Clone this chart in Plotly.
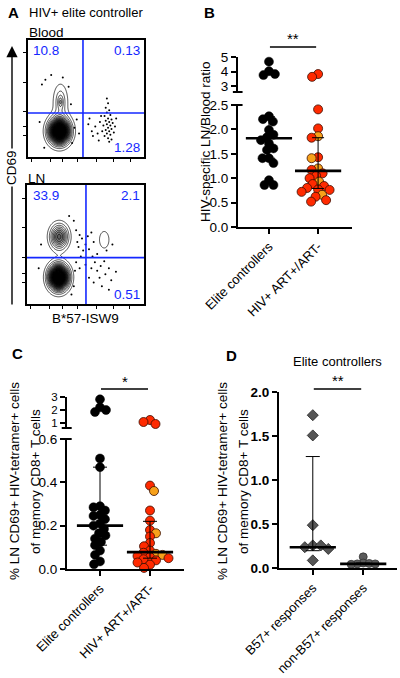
import numpy as np
import plotly.graph_objects as go

W, H = 400, 678
FONT = "Liberation Sans, Arial, Helvetica, sans-serif"

# ======================= DATA =======================
# Panel A: flow populations (fractions of the plot box): cx, cy, sx, sy, weight, profile power
blood_pop_cx = [0.27, 0.28]
blood_pop_cy = [0.22, 0.47]
blood_pop_sx = [0.080, 0.035]
blood_pop_sy = [0.097, 0.085]
blood_pop_w = [1.0, 0.30]
blood_pop_p = [2, 1]
blood_gate = [0.474, 0.376]
blood_quad = ["10.8", "0.13", "1.28"]
blood_events = [(0.68, 0.50), (0.69, 0.46), (0.67, 0.42), (0.70, 0.40), (0.68, 0.38), (0.71, 0.36),
                (0.66, 0.35), (0.69, 0.33), (0.72, 0.32), (0.67, 0.31), (0.70, 0.30), (0.73, 0.29),
                (0.68, 0.28), (0.71, 0.27), (0.65, 0.27), (0.69, 0.25), (0.72, 0.24), (0.67, 0.23),
                (0.70, 0.22), (0.74, 0.21), (0.68, 0.20), (0.71, 0.19), (0.66, 0.18), (0.69, 0.16),
                (0.72, 0.15), (0.70, 0.13), (0.64, 0.22), (0.62, 0.30), (0.58, 0.26), (0.55, 0.22),
                (0.52, 0.28), (0.56, 0.18), (0.60, 0.20), (0.53, 0.33), (0.61, 0.14), (0.63, 0.35),
                (0.75, 0.26), (0.76, 0.33), (0.12, 0.62), (0.15, 0.66), (0.30, 0.68), (0.35, 0.60),
                (0.10, 0.30), (0.40, 0.25), (0.42, 0.32), (0.38, 0.12), (0.14, 0.08), (0.44, 0.20),
                (0.20, 0.70), (0.37, 0.45)]

ln_pop_cx = [0.27, 0.275, 0.66]
ln_pop_cy = [0.225, 0.565, 0.54]
ln_pop_sx = [0.075, 0.07, 0.058]
ln_pop_sy = [0.095, 0.095, 0.10]
ln_pop_w = [1.0, 0.42, 0.10]
ln_pop_p = [2, 2, 1]
ln_gate = [0.504, 0.39]
ln_quad = ["33.9", "2.1", "0.51"]
ln_events = [(0.42, 0.62), (0.45, 0.58), (0.43, 0.52), (0.47, 0.55), (0.44, 0.48), (0.48, 0.45),
             (0.50, 0.50), (0.52, 0.57), (0.55, 0.60), (0.53, 0.46), (0.57, 0.52), (0.46, 0.40),
             (0.42, 0.35), (0.41, 0.28), (0.45, 0.30), (0.50, 0.33), (0.55, 0.30), (0.58, 0.35),
             (0.60, 0.28), (0.63, 0.32), (0.66, 0.36), (0.70, 0.30), (0.62, 0.22), (0.67, 0.25),
             (0.57, 0.18), (0.72, 0.20), (0.64, 0.15), (0.53, 0.22), (0.76, 0.27), (0.60, 0.42),
             (0.68, 0.45), (0.73, 0.50), (0.56, 0.40), (0.40, 0.70), (0.36, 0.74), (0.12, 0.50),
             (0.10, 0.30), (0.40, 0.15), (0.38, 0.08), (0.70, 0.12)]

# Panel B: HIV-specific LN/Blood ratio
categories_bc = ["Elite controllers", "HIV+ ART+/ART-"]
b_elite = [4.68, 4.03, 3.83, 3.76, 2.27, 2.21, 2.16, 1.99, 1.89, 1.84, 1.78, 1.71, 1.61,
           1.58, 1.41, 1.41, 1.31, 0.96, 0.86, 0.86]
b_art = [3.83, 3.64, 2.41, 2.02, 1.86, 1.83, 1.43, 1.41, 1.20, 1.17, 1.10, 1.05, 1.00, 0.93,
         0.88, 0.84, 0.80, 0.77, 0.76, 0.72, 0.66, 0.62, 0.55, 0.52]
b_art_group = ["ART+", "ART+", "ART+", "ART+", "ART-", "ART+", "ART+", "ART-", "ART-", "ART+",
               "ART+", "ART+", "ART+", "ART-", "ART+", "ART+", "ART+", "ART+", "ART+", "ART+",
               "ART-", "ART+", "ART+", "ART+"]
b_median = [1.82, 1.15]
b_q1 = [1.41, 0.79]
b_q3 = [2.26, 1.83]
b_sig = "**"

# Panel C: % LN CD69+ HIV-tetramer+ cells
c_elite = [2.80, 2.20, 2.00, 1.85, 0.51, 0.47, 0.29, 0.285, 0.27, 0.25, 0.245, 0.23, 0.21,
           0.20, 0.185, 0.165, 0.155, 0.14, 0.125, 0.11, 0.085, 0.065, 0.035, 0.022]
c_art = [1.25, 1.10, 0.95, 0.385, 0.36, 0.27, 0.223, 0.18, 0.165, 0.15, 0.12, 0.105, 0.085,
         0.075, 0.07, 0.065, 0.06, 0.055, 0.05, 0.045, 0.04, 0.03, 0.02, 0.005]
c_art_group = ["ART+", "ART+", "ART+", "ART+", "ART-", "ART+", "ART+", "ART+", "ART-", "ART+",
               "ART+", "ART+", "ART+", "ART+", "ART-", "ART-", "ART+", "ART+", "ART+", "ART+",
               "ART+", "ART+", "ART+", "ART+"]
c_median = [0.20, 0.078]
c_q1 = [0.11, 0.05]
c_q3 = [0.47, 0.22]
c_sig = "*"

# Panel D: elite controllers, B57+ vs non-B57+
categories_d = ["B57+ responses", "non-B57+ responses"]
d_b57 = [1.74, 1.51, 0.49, 0.26, 0.26, 0.24, 0.22, 0.09]
d_non = [0.13, 0.06, 0.055, 0.05, 0.05, 0.045]
d_median = [0.24, 0.05]
d_q1 = [0.20, 0.045]
d_q3 = [1.27, 0.06]
d_sig = "**"

# ======================= LAYOUT HELPERS =======================
def xd(a, b):
    return [a / W, b / W]

def yd(top, bottom):
    return [1 - bottom / H, 1 - top / H]

def py(p):
    return 1 - p / H

COL = {"ART+": "#ff2a00", "ART-": "#f7a11a"}

# segments: (lo, hi, px_bottom, px_top)
B_SEGS = [(0.0, 2.5, 227, 105), (2.6, 5.0, 92, 57)]
C_SEGS = [(0.0, 0.6, 569, 439), (0.65, 3.0, 428, 396.7)]
D_SEGS = [(0.0, 2.0, 568.3, 392.3)]
B_X = (238, 352, -0.63, 1.69)
C_X = (67, 184, -0.66, 1.68)
D_X = (279, 397, -0.67, 1.67)


def ypx(v, segs):
    for s in segs:
        lo, hi, pb, pt = s
        if v <= hi or s is segs[-1]:
            return pb - (v - lo) / (hi - lo) * (pb - pt)


def swarm(vals, segs, xspec, diam, gap=0.72):
    ppu = (xspec[1] - xspec[0]) / (xspec[3] - xspec[2])
    ys = [ypx(v, segs) for v in vals]
    order = sorted(range(len(vals)), key=lambda i: ys[i])
    placed, offs = [], [0.0] * len(vals)
    md = (gap * diam) ** 2
    for n, i in enumerate(order):
        y = ys[i]
        chosen = 0.0
        for k in range(0, 400):
            if k == 0:
                cands = [0.0]
            else:
                cands = [k * 0.5, -k * 0.5] if n % 2 == 0 else [-k * 0.5, k * 0.5]
            ok = None
            for c in cands:
                if all((c - a) ** 2 + (y - b) ** 2 >= md for a, b in placed):
                    ok = c
                    break
            if ok is not None:
                chosen = ok
                break
        placed.append((chosen, y))
        offs[i] = chosen / ppu
    return offs


def pa(**kw):
    """paper-referenced annotation"""
    d = dict(xref="paper", yref="paper", showarrow=False, xanchor="center", yanchor="middle")
    d.update(kw)
    return d


fig = go.Figure()

# ======================= PANEL A =======================
grid = np.linspace(0, 1, 161)
GX, GY = np.meshgrid(grid, grid)


def density(cxs, cys, sxs, sys_, ws, ps):
    Z = np.zeros_like(GX)
    for cx, cy, sx, sy, w, p in zip(cxs, cys, sxs, sys_, ws, ps):
        r = np.sqrt(((GX - cx) / sx) ** 2 + ((GY - cy) / sy) ** 2)
        Z += w * np.exp(-(r ** p))
    return Z


flow_cs = [[0, "white"], [0.09, "white"], [0.2, "#e2e2e2"], [0.35, "#7a7a7a"],
           [0.5, "#3a3a3a"], [0.65, "#111111"], [1, "black"]]
flow_specs = [
    ("x", "y", density(blood_pop_cx, blood_pop_cy, blood_pop_sx, blood_pop_sy, blood_pop_w,
                       blood_pop_p),
     blood_events, blood_gate, blood_quad, xd(28, 144), yd(40, 157)),
    ("x2", "y2", density(ln_pop_cx, ln_pop_cy, ln_pop_sx, ln_pop_sy, ln_pop_w, ln_pop_p),
     ln_events, ln_gate, ln_quad, xd(27, 144), yd(185, 304)),
]
shapes, annots = [], []
flow_xt = [0.03, 0.19, 0.30, 0.43, 0.59, 0.74, 0.88]
flow_yt = [0.18, 0.26, 0.39, 0.64, 0.89]
for xa, ya, Z, ev, gate, quad, xdom, ydom in flow_specs:
    fig.add_trace(go.Contour(x=grid, y=grid, z=Z, xaxis=xa, yaxis=ya, showscale=False,
                             zmin=0, zmax=1, colorscale=flow_cs,
                             contours=dict(start=0.05, end=1.0, size=0.05, coloring="fill"),
                             line=dict(color="black", width=0.7, smoothing=1.0),
                             hoverinfo="skip"))
    fig.add_trace(go.Scatter(x=[e[0] for e in ev], y=[e[1] for e in ev], mode="markers",
                             xaxis=xa, yaxis=ya, marker=dict(size=2, color="black"),
                             hoverinfo="skip", showlegend=False))
    ak = "axis" + xa[1:]
    yk = "axis" + ya[1:]
    common = dict(range=[0, 1], showline=True, mirror=True, linecolor="black", linewidth=1.5,
                  ticks="outside", ticklen=3, tickwidth=1, tickcolor="black", automargin=False,
                  showticklabels=False, showgrid=False, zeroline=False, fixedrange=True)
    fig.update_layout(**{"x" + ak: dict(domain=xdom, anchor=ya, tickvals=flow_xt, **common),
                         "y" + yk: dict(domain=ydom, anchor=xa, tickvals=flow_yt, **common)})
    shapes.append(dict(type="line", xref=xa, yref=ya + " domain", x0=gate[0], x1=gate[0],
                       y0=0, y1=1, line=dict(color="#1428ff", width=1.6), layer="above"))
    shapes.append(dict(type="line", xref=xa + " domain", yref=ya, x0=0, x1=1,
                       y0=gate[1], y1=gate[1], line=dict(color="#1428ff", width=1.6), layer="above"))
    qf = dict(family=FONT, size=13.5, color="#1428ff")
    annots.append(dict(text=quad[0], xref=xa + " domain", yref=ya + " domain", x=0.03, y=0.99,
                       xanchor="left", yanchor="top", showarrow=False, font=qf))
    annots.append(dict(text=quad[1], xref=xa + " domain", yref=ya + " domain", x=0.985, y=0.99,
                       xanchor="right", yanchor="top", showarrow=False, font=qf))
    annots.append(dict(text=quad[2], xref=xa + " domain", yref=ya + " domain", x=0.985, y=0.0,
                       xanchor="right", yanchor="bottom", showarrow=False, font=qf))

tf = dict(family=FONT, size=13.5, color="black")
annots += [
    pa(text="<b>A</b>", x=6 / W, y=py(12), xanchor="left",
       font=dict(family=FONT, size=15, color="black")),
    pa(text="HIV+ elite controller", x=27 / W, y=py(12), xanchor="left",
       font=dict(family=FONT, size=13, color="black")),
    pa(text="Blood", x=27 / W, y=py(32), xanchor="left", font=tf),
    pa(text="LN", x=26 / W, y=py(178), xanchor="left", font=tf),
    dict(text="", x=12 / W, y=py(46), ax=0, ay=260, axref="pixel", ayref="pixel",
         xref="paper", yref="paper", showarrow=True, arrowhead=2, arrowsize=1.6,
         arrowwidth=1.4, arrowcolor="black"),
    pa(text="CD69", x=12 / W, y=py(168), textangle=-90, font=tf, bgcolor="white"),
    pa(text="B*57-ISW9", x=85 / W, y=py(318), font=tf),
]

# ======================= PANELS B, C, D =======================
def add_group(vals, cat, xspec, segs, axes, colors, symbol, size, lcolor, lw):
    offs = swarm(vals, segs, xspec, size if symbol == "circle" else size * 1.3)
    lower_hi = segs[0][1]
    for seg_i, (xa, ya) in enumerate(axes):
        idx = [i for i, v in enumerate(vals) if (v <= lower_hi) == (seg_i == 0)]
        if not idx:
            continue
        fig.add_trace(go.Scatter(
            x=[cat + offs[i] for i in idx], y=[vals[i] for i in idx], mode="markers",
            xaxis=xa, yaxis=ya, cliponaxis=False, hoverinfo="skip", showlegend=False,
            marker=dict(symbol=symbol, size=size, color=[colors[i] for i in idx],
                        line=dict(color=lcolor, width=lw))))


def add_summary(med, q1, q3, xa, ya, cap):
    fig.add_trace(go.Scatter(
        x=list(range(len(med))), y=med, mode="markers", xaxis=xa, yaxis=ya,
        cliponaxis=False, hoverinfo="skip", showlegend=False,
        marker=dict(symbol="line-ew", size=33, color="black",
                    line=dict(color="black", width=2.6)),
        error_y=dict(type="data", symmetric=False,
                     array=[b - a for a, b in zip(med, q3)],
                     arrayminus=[a - b for a, b in zip(med, q1)],
                     thickness=1, width=cap, color="black")))


# B
add_group(b_elite, 0, B_X, B_SEGS, [("x3", "y3"), ("x3", "y4")], ["black"] * len(b_elite),
          "circle", 9, "black", 0.5)
add_group(b_art, 1, B_X, B_SEGS, [("x3", "y3"), ("x3", "y4")],
          [COL[g] for g in b_art_group], "circle", 9, "#3a0c00", 0.8)
add_summary(b_median, b_q1, b_q3, "x3", "y3", 6)
# C
add_group(c_elite, 0, C_X, C_SEGS, [("x4", "y5"), ("x4", "y6")], ["black"] * len(c_elite),
          "circle", 9, "black", 0.5)
add_group(c_art, 1, C_X, C_SEGS, [("x4", "y5"), ("x4", "y6")],
          [COL[g] for g in c_art_group], "circle", 9, "#3a0c00", 0.8)
add_summary(c_median, c_q1, c_q3, "x4", "y5", 7)
# D
add_group(d_b57, 0, D_X, D_SEGS, [("x5", "y7")], ["#555555"] * len(d_b57), "diamond", 8.5,
          "#222222", 0.8)
add_group(d_non, 1, D_X, D_SEGS, [("x5", "y7")], ["#5a5a5a"] * len(d_non), "circle", 8,
          "#333333", 0.8)
add_summary(d_median, d_q1, d_q3, "x5", "y7", 7)

axline = dict(showline=True, linecolor="black", linewidth=2, ticks="outside", ticklen=5,
              tickwidth=1.6, tickcolor="black", showgrid=False, zeroline=False, fixedrange=True,
              automargin=False, tickfont=dict(family=FONT, size=13.5, color="black"))
axbold = dict(axline, tickfont=dict(family=FONT, size=13.5, color="black", weight="bold"))
axsmall = dict(axline, tickfont=dict(family=FONT, size=11.5, color="black"))


def cat_x(xspec, ya, labels):
    base = dict(axline, tickfont=dict(family=FONT, size=13, color="black"))
    return dict(domain=xd(xspec[0], xspec[1]), range=[xspec[2], xspec[3]], anchor=ya,
                tickvals=[0, 1], ticktext=labels, tickangle=-45, **base)


def seg_y(seg, xa, ticks, fmt, base=axline):
    lo, hi, pb, pt = seg
    return dict(domain=yd(pt, pb), range=[lo, hi], anchor=xa, tickvals=ticks,
                ticktext=[fmt.format(t) for t in ticks], **base)


fig.update_layout(
    xaxis3=cat_x(B_X, "y3", categories_bc),
    yaxis3=seg_y(B_SEGS[0], "x3", [0, 0.5, 1.0, 1.5, 2.0, 2.5], "{:.1f}"),
    yaxis4=seg_y(B_SEGS[1], "x3", [3, 4, 5], "{:.0f}"),
    xaxis4=cat_x(C_X, "y5", categories_bc),
    yaxis5=seg_y(C_SEGS[0], "x4", [0, 0.2, 0.4, 0.6], "{:.1f}"),
    yaxis6=seg_y(C_SEGS[1], "x4", [1, 2, 3], "{:.0f}", axsmall),
    xaxis5=cat_x(D_X, "y7", categories_d),
    yaxis7=seg_y(D_SEGS[0], "x5", [0, 0.5, 1.0, 1.5, 2.0], "{:.1f}", axbold),
)

# broken-axis end brackets
for xa, ya, yv in [("x3", "y4", 0), ("x3", "y3", 1), ("x4", "y6", 0), ("x4", "y5", 1)]:
    shapes.append(dict(type="line", xref=xa + " domain", yref=ya + " domain",
                       x0=-0.045, x1=0.04, y0=yv, y1=yv, line=dict(color="black", width=2)))

# significance bars
for xa, ybar, sig, ysig in [("x3", 47, b_sig, 39), ("x4", 389, c_sig, 381), ("x5", 389, d_sig, 380)]:
    shapes.append(dict(type="line", xref=xa, yref="paper", x0=0.02, x1=0.96,
                       y0=py(ybar), y1=py(ybar), line=dict(color="black", width=1.6)))
    annots.append(dict(text=sig, xref=xa, yref="paper", x=0.49, y=py(ysig), showarrow=False,
                       xanchor="center", yanchor="middle",
                       font=dict(family=FONT, size=15, color="black")))

lf = dict(family=FONT, size=15, color="black")
annots += [
    pa(text="<b>B</b>", x=202 / W, y=py(12), xanchor="left", font=lf),
    pa(text="<b>C</b>", x=10 / W, y=py(353), xanchor="left", font=lf),
    pa(text="<b>D</b>", x=224 / W, y=py(355), xanchor="left", font=lf),
    pa(text="HIV-specific LN/Blood ratio", x=205 / W, y=py(141), textangle=-90, font=tf),
    pa(text="% LN CD69+ HIV-tetramer+ cells", x=15 / W, y=py(481), textangle=-90, font=tf),
    pa(text="of memory CD8+ T cells", x=35 / W, y=py(482), textangle=-90, font=tf),
    pa(text="% LN CD69+ HIV-tetramer+ cells", x=223 / W, y=py(481), textangle=-90, font=tf),
    pa(text="of memory CD8+ T cells", x=243 / W, y=py(482), textangle=-90, font=tf),
    pa(text="Elite controllers", x=337 / W, y=py(361),
       font=dict(family=FONT, size=13, color="black")),
]

fig.update_layout(width=W, height=H, margin=dict(l=0, r=0, t=0, b=0, autoexpand=False),
                  paper_bgcolor="white", plot_bgcolor="white", showlegend=False,
                  shapes=shapes, annotations=annots,
                  font=dict(family=FONT, size=13, color="black"))

fig.write_html("out.html", config={"displayModeBar": False},
               post_script="document.body.style.margin='0';")
